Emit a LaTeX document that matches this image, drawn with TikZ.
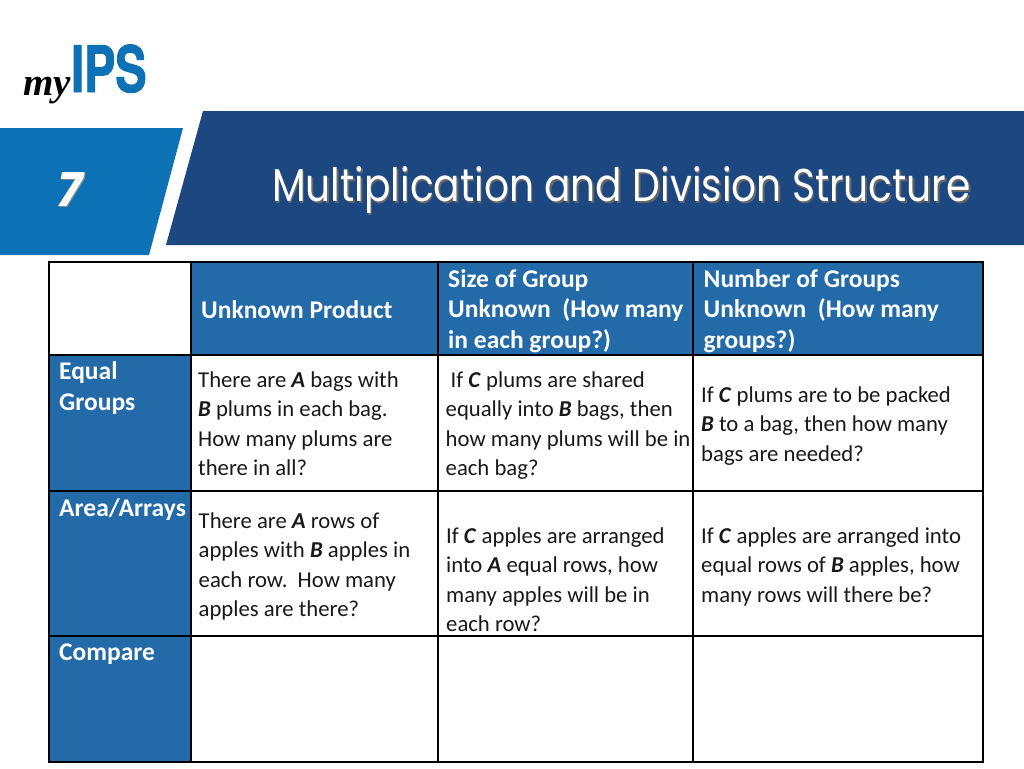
\documentclass[tikz,border=0pt]{standalone}
\usepackage{fontspec}
\setmainfont{Carlito}
\newfontfamily\logofont[FakeStretch=0.73,FakeBold=1.5]{TeX Gyre Heros}
\newfontfamily\myfont{Liberation Serif}
\newfontfamily\titlefont[FakeStretch=0.85]{Poppins}
\newfontfamily\numfont{Poppins}
\definecolor{barblue}{HTML}{0C72B5}
\definecolor{navy}{HTML}{1C4780}
\definecolor{cellblue}{HTML}{236AA8}
\newcommand{\cellfont}{\fontsize{22.7}{29.3}\selectfont}
\newcommand{\headfont}{\fontsize{25.5}{30.5}\selectfont\bfseries}
\tikzset{
  cell/.style={anchor=north west,align=left,inner sep=0pt,font=\cellfont,text=black!90},
  head/.style={anchor=north west,align=left,inner sep=0pt,font=\headfont,text=white},
  grid/.style={black,line width=1.2pt}
}
\begin{document}
\begin{tikzpicture}[x=1pt,y=-1pt]
              \useasboundingbox (0,0) rectangle (1024,768);
              \fill[white](0,0)rectangle(1024,768);
              % banner
              \fill[barblue](0,128)--(183,128)--(149,255)--(0,255)--cycle;
              \fill[navy](203,111)--(1024,111)--(1024,245)--(166,245)--cycle;
              \node[text=black!45,font=\numfont\fontsize{47}{50}\selectfont\bfseries\itshape](sevenshadow)at(71.5,191){7};
              \node[text=white,font=\numfont\fontsize{47}{50}\selectfont\bfseries\itshape](seven)at(70,189.5){7};
              \node[anchor=base west,inner sep=0pt,text=black!60,font=\titlefont\fontsize{46}{54}\selectfont](titleshadow)at(273.5,203){Multiplication and Division Structure};
              \node[anchor=base west,inner sep=0pt,text=white,font=\titlefont\fontsize{46}{54}\selectfont](title)at(272,201.5){Multiplication and Division Structure};
              % logo
              \node[anchor=base west,inner sep=0pt,text=barblue,font=\logofont\fontsize{64}{64}\selectfont\bfseries](ips)at(71,92){IPS};
              \node[anchor=base west,inner sep=0pt,text=black,font=\myfont\fontsize{39}{39}\selectfont\bfseries\itshape](my)at(23,95){my};
              % table fills
              \fill[cellblue](191,262)rectangle(983,355);
              \fill[cellblue](49,355)rectangle(191,762);
              % table grid
              \draw[grid](49,262)rectangle(983,762);
              \foreach \xpos in {191,438,693}
                \draw[grid](\xpos,262)--(\xpos,762);
              \foreach \ypos in {355,491,636}
                \draw[grid](49,\ypos)--(983,\ypos);
              % header row
              \node[head](hproduct)at(201,300){Unknown Product};
              \node[head](hsize)at(448,269){Size of Group\\Unknown~~(How many\\in each group?)};
              \node[head](hnumber)at(703.5,269){Number of Groups\\Unknown~~(How many\\groups?)};
              % row labels
              \node[head](requal)at(59,361.5){Equal\\Groups};
              \node[head](rarea)at(59,498){Area/Arrays};
              \node[head](rcompare)at(59,644){Compare};
              % equal groups
              \node[cell](aproduct)at(198,371.5){There are \textbf{\textit{A}} bags with\\\textbf{\textit{B}} plums in each bag.\\How many plums are\\there in all?};
              \node[cell](asize)at(445.5,371.5){\hspace*{5pt}If \textbf{\textit{C}} plums are shared\\equally into \textbf{\textit{B}} bags, then\\how many plums will be in\\each bag?};
              \node[cell](anumber)at(701,386.5){If \textbf{\textit{C}} plums are to be packed\\\textbf{\textit{B}} to a bag, then how many\\bags are needed?};
              % area/arrays
              \node[cell](bproduct)at(198.5,512.5){There are \textbf{\textit{A}} rows of\\apples with \textbf{\textit{B}} apples in\\each row.~~How many\\apples are there?};
              \node[cell](bsize)at(446,527.5){If \textbf{\textit{C}} apples are arranged\\into \textbf{\textit{A}} equal rows, how\\many apples will be in\\each row?};
              \node[cell](bnumber)at(701,527.5){If \textbf{\textit{C}} apples are arranged into\\equal rows of \textbf{\textit{B}} apples, how\\many rows will there be?};
            \end{tikzpicture}
\end{document}
